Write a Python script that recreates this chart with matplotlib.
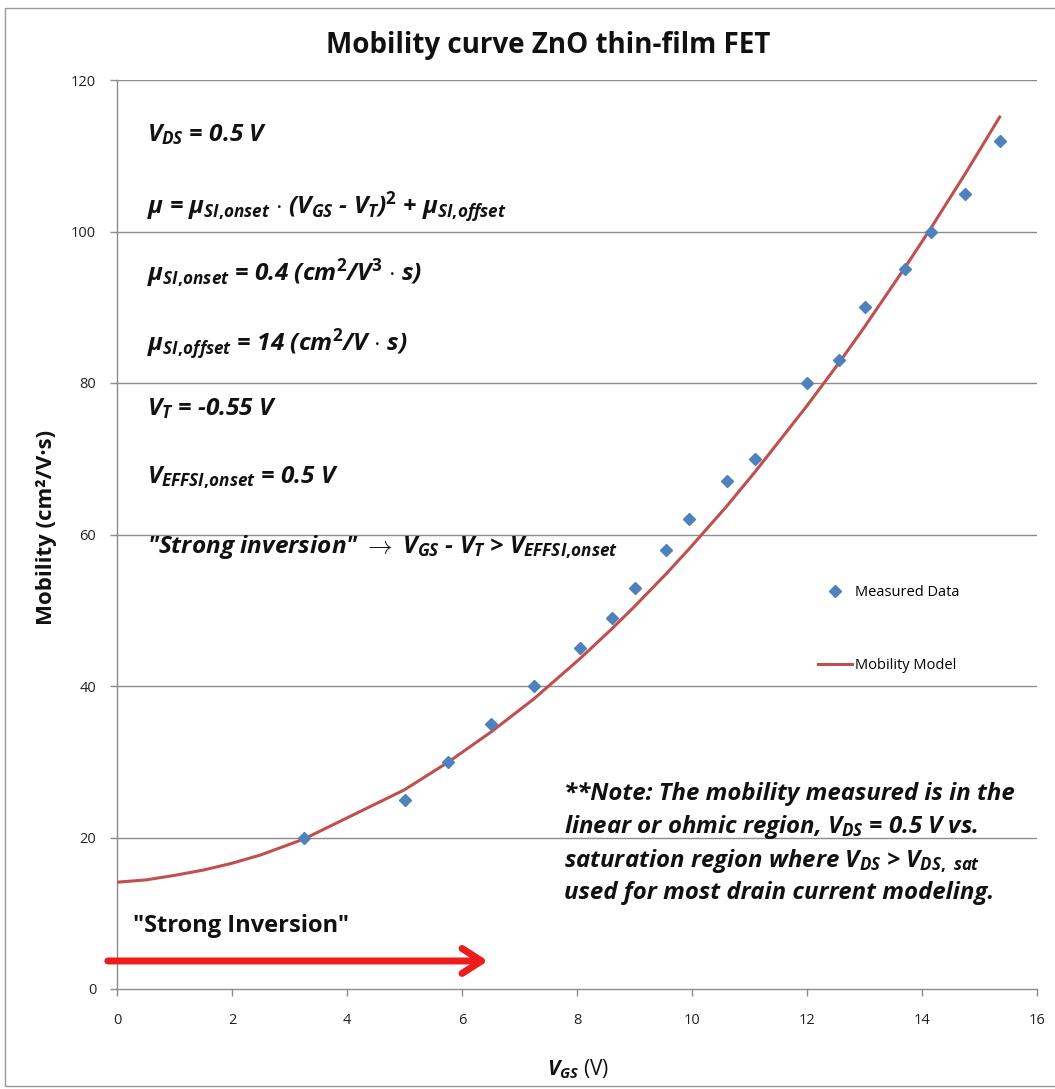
import matplotlib
matplotlib.use("Agg")
import matplotlib.pyplot as plt
from matplotlib.patches import Rectangle

# ---------------- data ----------------
vgs_measured = [3.25, 5.0, 5.75, 6.5, 7.25, 8.05, 8.6, 9.0, 9.55, 9.95,
                10.6, 11.1, 12.0, 12.55, 13.0, 13.7, 14.15, 14.75, 15.35]
mobility_measured = [20, 25, 30, 35, 40, 45, 49, 53, 58, 62,
                     67, 70, 80, 83, 90, 95, 100, 105, 112]

vgs_model = [0, 0.5, 1, 1.5, 2, 2.5, 3.25, 5.0, 5.75, 6.5, 7.25, 8.05, 8.6,
             9.0, 9.55, 9.95, 10.6, 11.1, 12.0, 12.55, 13.0, 13.7, 14.15,
             14.75, 15.35]
mobility_model = [14.1, 14.4, 15.0, 15.7, 16.6, 17.7, 19.8, 26.3, 29.9, 33.9,
                  38.3, 43.6, 47.5, 50.5, 54.8, 58.1, 63.7, 68.3, 77.0, 82.6,
                  87.4, 95.2, 100.4, 107.6, 115.1]

x_ticks = [0, 2, 4, 6, 8, 10, 12, 14, 16]
y_ticks = [0, 20, 40, 60, 80, 100, 120]

arrow_start = (-0.16, 3.7)
arrow_end = (6.45, 3.7)

# ---------------- style ----------------
FONT = "Open Sans"
plt.rcParams["font.family"] = [FONT, "DejaVu Sans"]
plt.rcParams["mathtext.fontset"] = "custom"
plt.rcParams["mathtext.it"] = FONT + ":italic:bold"
plt.rcParams["mathtext.rm"] = FONT + ":bold"
plt.rcParams["mathtext.bf"] = FONT + ":bold"
plt.rcParams["mathtext.default"] = "it"

W, H = 1055, 1089
fig = plt.figure(figsize=(W / 100, H / 100), dpi=100)

def fx(px):
    return px / W

def fy(py):
    return 1 - py / H

# outer chart border
fig.patches.append(Rectangle((fx(5), fy(1086)), 1.1, fy(8) - fy(1086),
                             transform=fig.transFigure, fill=False,
                             edgecolor="#9a9a9a", lw=1.0))

ax = fig.add_axes([fx(117), fy(989), fx(1037) - fx(117), fy(80) - fy(989)])
ax.set_xlim(0, 16)
ax.set_ylim(0, 120)

grid_c = "#8c8c8c"
for yv in y_ticks[1:]:
    ax.axhline(yv, color=grid_c, lw=1.0, zorder=0)
for s in ["top", "right"]:
    ax.spines[s].set_visible(False)
for s in ["left", "bottom"]:
    ax.spines[s].set_color(grid_c)
    ax.spines[s].set_linewidth(1.0)

ax.set_xticks(x_ticks)
ax.set_yticks(y_ticks)
ax.tick_params(axis="both", colors=grid_c, length=5, width=1, labelsize=10.5,
               labelcolor="#222222", direction="out")
ax.tick_params(axis="x", pad=12)
ax.tick_params(axis="y", pad=10)

line_model, = ax.plot(vgs_model, mobility_model, color="#c0504d", lw=2.2,
                      zorder=3, label="Mobility Model")
pts, = ax.plot(vgs_measured, mobility_measured, linestyle="none", marker="D",
               markersize=6.5, color="#4f81bd", zorder=4, label="Measured Data")

ax.annotate("", xy=arrow_end, xytext=arrow_start,
            arrowprops=dict(arrowstyle="->,head_length=0.7,head_width=0.45",
                            lw=5, color="#ee1c1c", shrinkA=0, shrinkB=0,
                            mutation_scale=20),
            annotation_clip=False, zorder=5)

# title & axis labels
fig.text(fx(548), fy(53), "Mobility curve ZnO thin-film FET", ha="center",
         va="baseline", fontsize=20, fontweight="bold", color="#111111")
fig.text(fx(47), fy(527), "Mobility (cm²/V·s)", rotation=90, ha="center",
         va="center", fontsize=16, fontweight="bold", color="#111111")
fig.text(fx(578), fy(1075), r"$V_{GS}$ (V)", ha="center", va="baseline",
         fontsize=15, color="#111111")

# annotation block
ann_kw = dict(ha="left", va="baseline", fontsize=17.6, fontweight="bold",
              fontstyle="italic", color="#111111")
lines = [
    (141, r"$V_{DS}$ = 0.5 V"),
    (213, r"$\mu$ = $\mu_{SI,\!onset}$ $\cdot$ ($V_{GS}$ - $V_T$)$^2$ + $\mu_{SI,\!offset}$"),
    (281, r"$\mu_{SI,\!onset}$ = 0.4 (cm$^2$/V$^3$ $\cdot$ s)"),
    (350, r"$\mu_{SI,\!offset}$ = 14 (cm$^2$/V $\cdot$ s)"),
    (415, r"$V_T$ = -0.55 V"),
    (483, r"$V_{EFFSI,\!onset}$ = 0.5 V"),
    (553, r'"Strong inversion" $\mathbf{\rightarrow}$ $V_{GS}$ - $V_T$ > $V_{EFFSI,\!onset}$'),
]
for yb, s in lines:
    fig.text(fx(147), fy(yb), s, **ann_kw)

# note block
note_kw = dict(ha="left", va="baseline", fontsize=17.3, fontweight="bold",
               fontstyle="italic", color="#111111")
note_lines = [
    (800, r"**Note: The mobility measured is in the"),
    (833, r"linear or ohmic region, $V_{DS}$ = 0.5 V vs."),
    (867, r"saturation region where $V_{DS}$ > $V_{DS,\ sat}$"),
    (899, r"used for most drain current modeling."),
]
for yb, s in note_lines:
    fig.text(fx(564), fy(yb), s, **note_kw)

fig.text(fx(133), fy(932), '"Strong Inversion"', ha="left", va="baseline",
         fontsize=17, fontweight="bold", color="#111111")

# legend
fig.legend(handles=[pts, line_model], labels=["Measured Data", "Mobility Model"],
           loc="upper left", bbox_to_anchor=(fx(818), fy(585)),
           bbox_transform=fig.transFigure, frameon=False, fontsize=10.5,
           handlelength=2.35, handletextpad=0.2, labelspacing=4.0,
           borderpad=0, borderaxespad=0)

fig.savefig("out.png", dpi=100)
